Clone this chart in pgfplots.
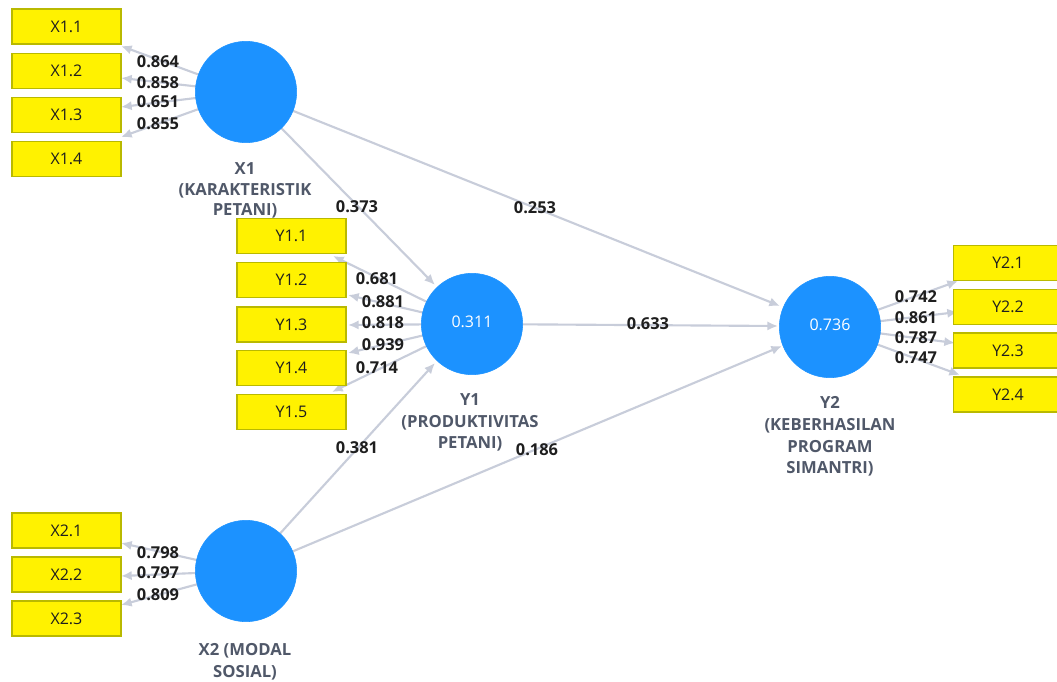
\documentclass[border=0pt]{standalone}
\usepackage{pgfplots}
\pgfplotsset{compat=1.18}
\usepackage{pgfplotstable}
\usepackage{fontspec}
\setmainfont{Open Sans}
\usetikzlibrary{arrows.meta}

\definecolor{lvblue}{RGB}{28,146,255}
\definecolor{arrowgray}{RGB}{200,205,218}
\definecolor{boxedge}{RGB}{185,185,0}
\definecolor{namegray}{RGB}{80,88,105}
\definecolor{valblack}{RGB}{30,30,30}

% indicator boxes: centre x, centre y (pixels, y downward)
\pgfplotstableread{
x y l
66.5 26.5 X1.1
66.5 71 X1.2
66.5 115 X1.3
66.5 159 X1.4
291.5 236 Y1.1
291.5 280 Y1.2
291.5 324.5 Y1.3
291.5 368 Y1.4
291.5 412 Y1.5
1008 263 Y2.1
1008 307 Y2.2
1008 350.5 Y2.3
1008 394.5 Y2.4
66.5 530.5 X2.1
66.5 574.5 X2.2
66.5 618.5 X2.3
}\boxes

% outer loadings and path coefficients
\pgfplotstableread{
x y l
158 62 0.864
158 83 0.858
158 102 0.651
158 124 0.855
377 279 0.681
383 302 0.881
383 323 0.818
383 345 0.939
377 368 0.714
916 297 0.742
916 318 0.861
916 338 0.787
916 358 0.747
158 553 0.798
158 573 0.797
158 595 0.809
357 207 0.373
535 208 0.253
648 324 0.633
357 448 0.381
537 450 0.186
}\values

\pgfplotstableread[col sep=comma]{
x,y,l
245,169,X1
245,190,(KARAKTERISTIK
245,210,PETANI)
470,400,Y1
470,422,(PRODUKTIVITAS
470,443,PETANI)
830,403,Y2
830,425,(KEBERHASILAN
830,447,PROGRAM
830,468,SIMANTRI)
245,650,X2 (MODAL
245,672,SOSIAL)
}\names

\begin{document}
\begin{tikzpicture}
\begin{axis}[
  name=ax, scale only axis, width=792.75pt, height=511.5pt,
  xmin=0, xmax=1057, ymin=0, ymax=682, y dir=reverse,
  axis lines=none, clip=false,
  arr/.style={arrowgray, line width=1.6pt, -{Latex[length=8pt,width=7pt]}},
  lab/.style={draw=none, mark=none, point meta=explicit symbolic,
    nodes near coords, every node near coord/.append style={anchor=base, yshift=-4.4pt}},
]
% outer model: latent -> indicator
\addplot[arr] coordinates {(246,92)(121,46)};
\addplot[arr] coordinates {(246,92)(121,78)};
\addplot[arr] coordinates {(246,92)(121,107)};
\addplot[arr] coordinates {(246,92)(121,137)};
\addplot[arr] coordinates {(472,324)(333,256)};
\addplot[arr] coordinates {(472,324)(348,295)};
\addplot[arr] coordinates {(472,324)(348,325)};
\addplot[arr] coordinates {(472,324)(348,353)};
\addplot[arr] coordinates {(472,324)(332,392)};
\addplot[arr] coordinates {(830,327)(958,281)};
\addplot[arr] coordinates {(830,327)(958,312)};
\addplot[arr] coordinates {(830,327)(955,343)};
\addplot[arr] coordinates {(830,327)(960,375)};
\addplot[arr] coordinates {(246,571)(121,543)};
\addplot[arr] coordinates {(246,571)(121,576)};
\addplot[arr] coordinates {(246,571)(121,605)};
% inner model
\addplot[arr] coordinates {(246,92)(435,285)};
\addplot[arr] coordinates {(246,92)(780,306)};
\addplot[arr] coordinates {(472,324)(778,326)};
\addplot[arr] coordinates {(246,571)(435,363)};
\addplot[arr] coordinates {(246,571)(782,346)};

% latent variables
\addplot[only marks, mark=*, mark size=38pt, mark options={fill=lvblue, draw=lvblue}]
  coordinates {(246,92)(472,324)(830,327)(246,571)};
\addplot[lab, every node near coord/.append style={text=white, font=\fontsize{12}{14}\selectfont}]
  coordinates {(472,322) [0.311] (830,325) [0.736]};

% indicators
\addplot[draw=none, mark=none, point meta=explicit symbolic, nodes near coords,
  every node near coord/.append style={anchor=center, fill=yellow, draw=boxedge, line width=0.8pt,
    minimum width=81.75pt, minimum height=26.25pt, inner sep=0pt, text=valblack,
    font=\fontsize{12}{14}\selectfont}]
  table[x=x, y=y, meta=l] {\boxes};

% coefficients
\addplot[lab, every node near coord/.append style={text=valblack, inner sep=0pt,
    font=\bfseries\fontsize{12.3}{14}\selectfont}]
  table[x=x, y=y, meta=l] {\values};

% latent names
\addplot[lab, every node near coord/.append style={text=namegray, inner sep=0pt,
    font=\bfseries\fontsize{12.5}{14}\selectfont}]
  table[x=x, y=y, meta=l] {\names};
\end{axis}
\pgfresetboundingbox
\useasboundingbox (ax.south west) rectangle (ax.north east);
\end{tikzpicture}
\end{document}
